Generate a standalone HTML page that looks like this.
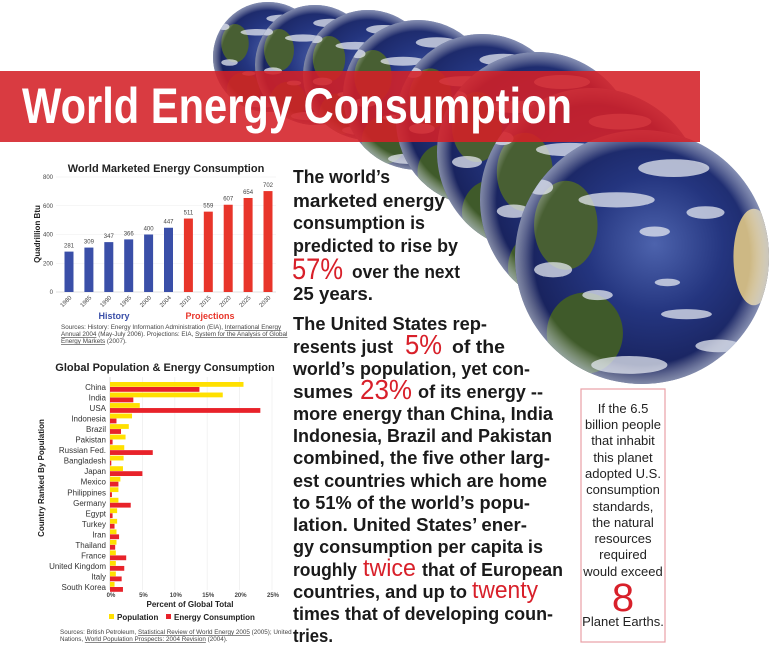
<!DOCTYPE html>
<html><head><meta charset="utf-8">
<style>
html,body{margin:0;padding:0;background:#fff;}
svg{display:block;}
text{font-family:"Liberation Sans",sans-serif;}
</style></head>
<body>
<svg id="root" width="770" height="665" viewBox="0 0 770 665" xmlns="http://www.w3.org/2000/svg">
<defs>
  <radialGradient id="ocean" cx="0.55" cy="0.45" r="0.6">
    <stop offset="0" stop-color="#4d63ad"/>
    <stop offset="0.45" stop-color="#24357f"/>
    <stop offset="0.85" stop-color="#18225c"/>
    <stop offset="1" stop-color="#0e1438"/>
  </radialGradient>
  <radialGradient id="rim" cx="0.5" cy="0.5" r="0.5">
    <stop offset="0.85" stop-color="#fff" stop-opacity="0"/>
    <stop offset="1" stop-color="#c9d2e6" stop-opacity="0.6"/>
  </radialGradient>
  <clipPath id="unit"><circle cx="0" cy="0" r="1"/></clipPath>
  <g id="earth">
    <circle cx="0" cy="0" r="1" fill="url(#ocean)"/>
    <g clip-path="url(#unit)">
      <ellipse cx="-0.45" cy="0.6" rx="0.3" ry="0.32" fill="#3f5a2a"/>
      <ellipse cx="-0.6" cy="-0.25" rx="0.25" ry="0.35" fill="#485f33"/>
      <ellipse cx="0.88" cy="0.0" rx="0.16" ry="0.38" fill="#cdb884"/>
      <g fill="#e4e8f1" opacity="0.75">
        <ellipse cx="-0.2" cy="-0.45" rx="0.3" ry="0.06"/>
        <ellipse cx="0.25" cy="-0.7" rx="0.28" ry="0.07"/>
        <ellipse cx="-0.7" cy="0.1" rx="0.15" ry="0.06"/>
        <ellipse cx="0.35" cy="0.45" rx="0.2" ry="0.04"/>
        <ellipse cx="-0.1" cy="0.85" rx="0.3" ry="0.07"/>
        <ellipse cx="0.1" cy="-0.2" rx="0.12" ry="0.04"/>
        <ellipse cx="0.5" cy="-0.35" rx="0.15" ry="0.05"/>
        <ellipse cx="-0.35" cy="0.3" rx="0.12" ry="0.04"/>
        <ellipse cx="0.6" cy="0.7" rx="0.18" ry="0.05"/>
        <ellipse cx="-0.8" cy="-0.55" rx="0.1" ry="0.06"/>
        <ellipse cx="0.2" cy="0.2" rx="0.1" ry="0.03"/>
      </g>
    </g>
    <circle cx="0" cy="0" r="1" fill="url(#rim)"/>
  </g>
</defs>

<g>
  <use href="#earth" transform="translate(268,57) scale(55)"/>
  <use href="#earth" transform="translate(315,65) scale(60)"/>
  <use href="#earth" transform="translate(368,75) scale(65)"/>
  <use href="#earth" transform="translate(418,95) scale(75)"/>
  <use href="#earth" transform="translate(482,120) scale(86)"/>
  <use href="#earth" transform="translate(537,152) scale(100)"/>
  <use href="#earth" transform="translate(592,200) scale(112)"/>
  <use href="#earth" transform="translate(642,257) scale(127)"/>
</g>

<rect x="0" y="71" width="700" height="71" fill="#d42027" opacity="0.88"/>
<text x="22" y="123" font-size="50" font-weight="bold" fill="#fff" textLength="550" lengthAdjust="spacingAndGlyphs">World Energy Consumption</text>

<g id="chart1">
  <text x="166" y="172" font-size="11" font-weight="bold" text-anchor="middle" fill="#222">World Marketed Energy Consumption</text>
  <text transform="translate(40,234) rotate(-90)" font-size="8" font-weight="bold" text-anchor="middle" fill="#222">Quadrillion Btu</text>
  <text x="114" y="319" font-size="9" font-weight="bold" text-anchor="middle" fill="#3a4fa8">History</text>
  <text x="210" y="319" font-size="9" font-weight="bold" text-anchor="middle" fill="#e8352a">Projections</text>
  <g font-size="6.3" fill="#444">
    <text x="61" y="329">Sources:  History: Energy Information Administration (EIA), <tspan text-decoration="underline">International Energy</tspan></text>
    <text x="61" y="336"><tspan text-decoration="underline">Annual 2004</tspan> (May-July 2006).  Projections: EIA, <tspan text-decoration="underline">System for the Analysis of Global</tspan></text>
    <text x="61" y="343"><tspan text-decoration="underline">Energy Markets</tspan> (2007).</text>
  </g>
</g>

<g id="chart2">
  <text x="165" y="371" font-size="11" font-weight="bold" text-anchor="middle" fill="#222">Global Population &amp; Energy Consumption</text>
  <text transform="translate(44,478) rotate(-90)" font-size="8" font-weight="bold" text-anchor="middle" fill="#222">Country Ranked By Population</text>
  <text x="190" y="607" font-size="8" font-weight="bold" text-anchor="middle" fill="#222">Percent of Global Total</text>
  <g>
    <rect x="109" y="614" width="5" height="5" fill="#ffe000"/>
    <text x="117" y="620" font-size="8" font-weight="bold" fill="#222">Population</text>
    <rect x="166" y="614" width="5" height="5" fill="#e8222a"/>
    <text x="174" y="620" font-size="8" font-weight="bold" fill="#222">Energy Consumption</text>
  </g>
  <g font-size="6.3" fill="#444">
    <text x="60" y="634">Sources:  British Petroleum, <tspan text-decoration="underline">Statistical Review of World Energy 2005</tspan> (2005); United</text>
    <text x="60" y="641">Nations, <tspan text-decoration="underline">World Population Prospects: 2004 Revision</tspan> (2004).</text>
  </g>
</g>

<g font-weight="bold" font-size="18" fill="#1a1a1a">
  <text x="293" y="183" textLength="97" lengthAdjust="spacingAndGlyphs">The world’s</text>
  <text x="293" y="207" textLength="152" lengthAdjust="spacingAndGlyphs">marketed energy</text>
  <text x="293" y="229" textLength="132" lengthAdjust="spacingAndGlyphs">consumption is</text>
  <text x="293" y="252" textLength="165" lengthAdjust="spacingAndGlyphs">predicted to rise by</text>
  <text x="292" y="279" font-size="30" font-weight="normal" fill="#d8202a" textLength="51" lengthAdjust="spacingAndGlyphs">57%</text>
  <text x="352" y="278" textLength="108" lengthAdjust="spacingAndGlyphs">over the next</text>
  <text x="293" y="300" textLength="80" lengthAdjust="spacingAndGlyphs">25 years.</text>
</g>
<g font-weight="bold" font-size="18" fill="#1a1a1a">
  <text x="293" y="330" textLength="194" lengthAdjust="spacingAndGlyphs">The United States rep-</text>
  <text x="293" y="353" textLength="100" lengthAdjust="spacingAndGlyphs">resents just</text>
  <text x="405" y="354" font-size="28" font-weight="normal" fill="#d8202a" textLength="37" lengthAdjust="spacingAndGlyphs">5%</text>
  <text x="452" y="353" textLength="53" lengthAdjust="spacingAndGlyphs">of  the</text>
  <text x="293" y="375" textLength="237" lengthAdjust="spacingAndGlyphs">world’s population, yet con-</text>
  <text x="293" y="398" textLength="60" lengthAdjust="spacingAndGlyphs">sumes</text>
  <text x="360" y="399" font-size="28" font-weight="normal" fill="#d8202a" textLength="52" lengthAdjust="spacingAndGlyphs">23%</text>
  <text x="418" y="398" textLength="125" lengthAdjust="spacingAndGlyphs">of its energy --</text>
  <text x="293" y="420" textLength="260" lengthAdjust="spacingAndGlyphs">more energy than China, India</text>
  <text x="293" y="442" textLength="259" lengthAdjust="spacingAndGlyphs">Indonesia, Brazil and Pakistan</text>
  <text x="293" y="464" textLength="257" lengthAdjust="spacingAndGlyphs">combined, the five other larg-</text>
  <text x="293" y="487" textLength="254" lengthAdjust="spacingAndGlyphs">est countries which are home</text>
  <text x="293" y="509" textLength="237" lengthAdjust="spacingAndGlyphs">to 51% of the world’s popu-</text>
  <text x="293" y="531" textLength="234" lengthAdjust="spacingAndGlyphs">lation.  United States’ ener-</text>
  <text x="293" y="553" textLength="250" lengthAdjust="spacingAndGlyphs">gy consumption per capita is</text>
  <text x="293" y="576" textLength="64" lengthAdjust="spacingAndGlyphs">roughly</text>
  <text x="363" y="576" font-size="24" font-weight="normal" fill="#d8202a" textLength="53" lengthAdjust="spacingAndGlyphs">twice</text>
  <text x="422" y="576" textLength="141" lengthAdjust="spacingAndGlyphs">that of European</text>
  <text x="293" y="598" textLength="174" lengthAdjust="spacingAndGlyphs">countries, and up to</text>
  <text x="472" y="598" font-size="24" font-weight="normal" fill="#d8202a" textLength="66" lengthAdjust="spacingAndGlyphs">twenty</text>
  <text x="293" y="620" textLength="260" lengthAdjust="spacingAndGlyphs">times that of developing coun-</text>
  <text x="293" y="642" textLength="40" lengthAdjust="spacingAndGlyphs">tries.</text>
</g>

<g>
  <rect x="581" y="389" width="84" height="253" fill="#fff" stroke="#e8a0a6" stroke-width="1.2"/>
  <g font-size="13" fill="#222" text-anchor="middle" style="font-family:'Liberation Sans Narrow','Liberation Sans',sans-serif">
    <text x="623" y="413">If the 6.5</text>
    <text x="623" y="429">billion people</text>
    <text x="623" y="445">that inhabit</text>
    <text x="623" y="462">this planet</text>
    <text x="623" y="478">adopted U.S.</text>
    <text x="623" y="494">consumption</text>
    <text x="623" y="511">standards,</text>
    <text x="623" y="527">the natural</text>
    <text x="623" y="543">resources</text>
    <text x="623" y="559">required</text>
    <text x="623" y="576">would exceed</text>
    <text x="623" y="611" font-size="40" fill="#d8202a">8</text>
    <text x="623" y="626">Planet Earths.</text>
  </g>
</g>
</svg>

<script>
const years = ["1980","1985","1990","1995","2000","2004","2010","2015","2020","2025","2030"];
const energyValues = [281,309,347,366,400,447,511,559,607,654,702];
const historyCount = 6;
const yTicks1 = [0,200,400,600,800];

const countries = ["China","India","USA","Indonesia","Brazil","Pakistan","Russian Fed.","Bangladesh","Japan","Mexico","Philippines","Germany","Egypt","Turkey","Iran","Thailand","France","United Kingdom","Italy","South Korea"];
const populationPct = [20.6,17.4,4.6,3.4,2.9,2.4,2.2,2.1,2.0,1.6,1.3,1.3,1.1,1.1,1.0,1.0,0.9,0.9,0.9,0.7];
const energyPct = [13.8,3.6,23.2,1.0,1.7,0.4,6.6,0.2,5.0,1.3,0.3,3.2,0.4,0.7,1.4,0.8,2.5,2.2,1.8,2.0];
const xTicks2 = [0,5,10,15,20,25];

const NS = "http://www.w3.org/2000/svg";
function mk(tag, attrs, parent){ const e=document.createElementNS(NS,tag); for(const k in attrs) e.setAttribute(k,attrs[k]); parent.appendChild(e); return e; }

(function(){
  const g = document.getElementById('chart1');
  const y0=292, y1=177, vmax=800;
  const yS = v => y0 - (v/vmax)*(y0-y1);
  const xFirst=69, xLast=268;
  const xS = i => xFirst + i*(xLast-xFirst)/(years.length-1);
  yTicks1.forEach(t=>{
    const tx = mk('text',{x:53,y:yS(t)+2,'font-size':6,'text-anchor':'end',fill:'#444'},g);
    tx.textContent=t;
    
    
    const gl = mk('line',{x1:56,x2:276,y1:yS(t),y2:yS(t),stroke:'#eee','stroke-width':0.6},g);
    
    
  });
  const ax = mk('line',{x1:56,x2:276,y1:y0,y2:y0,stroke:'#ccc','stroke-width':0.6},g);
  
  
  years.forEach((yr,i)=>{
    const x=xS(i), v=energyValues[i];
    const b = mk('rect',{x:x-4.5,y:yS(v),width:9,height:y0-yS(v),fill:i<historyCount?'#3a4fa8':'#e8352a'},g);
    
    
    const vl = mk('text',{x:x,y:yS(v)-4,'font-size':6,'text-anchor':'middle',fill:'#444'},g);
    vl.textContent=v;
    
    
    const xl = mk('text',{transform:'translate('+(x+3)+',298) rotate(-45)','font-size':6,'text-anchor':'end',fill:'#444'},g);
    xl.textContent=yr;
    
    
  });
})();

(function(){
  const g = document.getElementById('chart2');
  const x0=110, x25=272;
  const xS = v => x0 + v*(x25-x0)/25;
  const rowTop=387, rowBot=587;
  const yS = i => rowTop + i*(rowBot-rowTop)/(countries.length-1);
  xTicks2.forEach(t=>{
    const gl = mk('line',{x1:xS(t),x2:xS(t),y1:377,y2:590,stroke:t===0?'#ccc':'#eee','stroke-width':0.7},g);
    
    
    const tl = mk('text',{x:xS(t)+1,y:597,'font-size':6,'font-weight':'bold','text-anchor':'middle',fill:'#444'},g);
    tl.textContent=t+'%';
    
    
  });
  countries.forEach((c,i)=>{
    const y=yS(i);
    const lb = mk('text',{x:106,y:y+3,'font-size':8,'text-anchor':'end',fill:'#333'},g);
    lb.textContent=c;
    
    
    const pb = mk('rect',{x:x0,y:y-5,width:xS(populationPct[i])-x0,height:4.8,fill:'#ffe000'},g);
    
    
    const eb = mk('rect',{x:x0,y:y,width:xS(energyPct[i])-x0,height:4.8,fill:'#e8222a'},g);
    
    
  });
})();
</script>
</body></html>
